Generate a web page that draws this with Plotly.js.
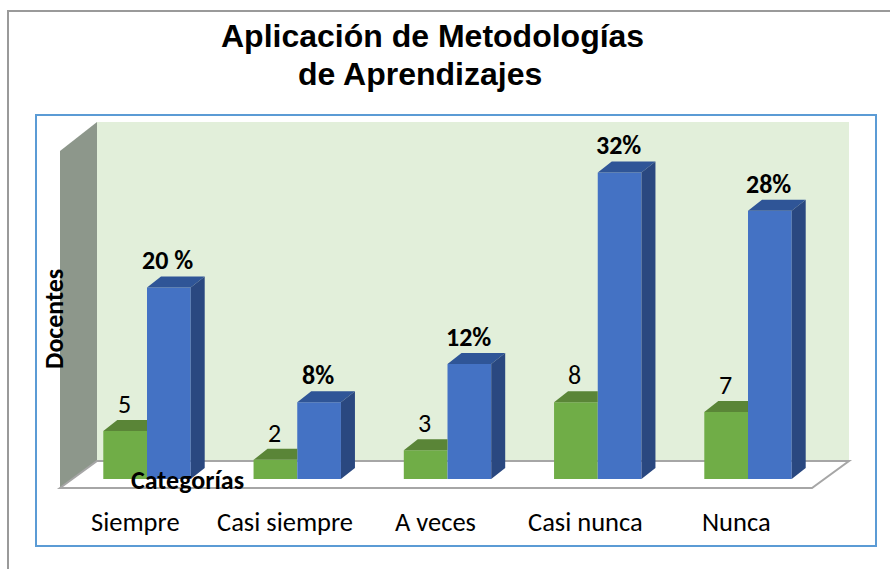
<!DOCTYPE html>
<html><head><meta charset="utf-8">
<script src="https://cdn.plot.ly/plotly-3.0.1.min.js"></script>
<style>html,body{margin:0;padding:0;background:#fff;overflow:hidden}</style>
</head><body><div id="chart" style="width:890px;height:569px"></div>
<script>
const categories = ["Siempre","Casi siempre","A veces","Casi nunca","Nunca"];
const docentes = [5,2,3,8,7];
const porcentajes = [20,8,12,32,28];
const etiquetasPct = ["20 %","8%","12%","32%","28%"];
const etiquetasDoc = ["5","2","3","8","7"];

// scale: one category = 150.25 px, one value unit = 9.58 px
const pxX = 150.25, pxY = 9.58;
const X = p => (p - 147) / pxX;
const Y = p => (479 - p) / pxY;
const barW = 43.7 / pxX, depthX = 14 / pxX, depthY = 11 / pxY;
const idx = categories.map((_, i) => i);

function poly(name, color, build) {
  const xs = [], ys = [];
  idx.forEach(i => {
    build(i).forEach(p => { xs.push(p[0]); ys.push(p[1]); });
    xs.push(null); ys.push(null);
  });
  return {type:'scatter', mode:'lines', x:xs, y:ys, fill:'toself', fillcolor:color,
          line:{width:0, color:color}, hoverinfo:'skip', showlegend:false, name:name};
}

const traces = [
  {type:'bar', name:'Docentes', x:idx, y:docentes, marker:{color:'#70AD47', line:{width:0}}},
  {type:'bar', name:'Porcentaje', x:idx, y:porcentajes, marker:{color:'#4472C4', line:{width:0}}},
  poly('Docentes tapa', '#5A8537', i => [
    [i-barW, docentes[i]], [i, docentes[i]], [i, docentes[i]+depthY],
    [i-barW+depthX, docentes[i]+depthY]]),
  poly('Porcentaje tapa', '#2F5597', i => [
    [i, porcentajes[i]], [i+barW, porcentajes[i]],
    [i+barW+depthX, porcentajes[i]+depthY], [i+depthX, porcentajes[i]+depthY]]),
  poly('Porcentaje lado', '#2A4880', i => [
    [i+barW, 0], [i+barW+depthX, depthY],
    [i+barW+depthX, porcentajes[i]+depthY], [i+barW, porcentajes[i]]])
];

const shapes = [
  {type:'rect', xref:'paper', yref:'paper', x0:8/890, x1:1.01, y0:-0.01, y1:1-11/569,
   line:{color:'#9A9A9A', width:2}, fillcolor:'#fff', layer:'below'},
  {type:'rect', xref:'paper', yref:'paper', x0:36/890, x1:876/890, y0:1-546/569, y1:1-115/569,
   line:{color:'#5B9BD5', width:2}, fillcolor:'#fff', layer:'below'},
  {type:'rect', x0:X(97), x1:X(849), y0:Y(461), y1:Y(122), fillcolor:'#E2EFDA', line:{width:0}, layer:'below'},
  {type:'path', path:`M${X(60)},${Y(488)} L${X(60)},${Y(151)} L${X(97)},${Y(122)} L${X(97)},${Y(461)} Z`,
   fillcolor:'#8D978B', line:{width:0}, layer:'below'},
  {type:'path', path:`M${X(60)},${Y(488)} L${X(97)},${Y(461)} L${X(849)},${Y(461)} L${X(812)},${Y(488)} Z`,
   fillcolor:'#FFFFFF', line:{color:'#A6A6A6', width:2}, layer:'below'}
];

const body = 'Carlito, Lato, "Open Sans", sans-serif';
const annotations = [];
idx.forEach(i => {
  annotations.push({x:i-barW/2, y:docentes[i], yshift:27, yanchor:'middle', xanchor:'center', xshift:-1,
    text:etiquetasDoc[i], showarrow:false, font:{family:body, size:26, color:'#000'}});
  annotations.push({x:i+barW/2, y:porcentajes[i], yshift:27, yanchor:'middle', xanchor:'center', xshift:-1,
    text:'<b>'+etiquetasPct[i]+'</b>', showarrow:false, font:{family:body, size:26, color:'#000'}});
  annotations.push({x:i, xshift:-12, y:Y(522), yanchor:'middle', xanchor:'center',
    text:categories[i], showarrow:false, font:{family:body, size:26.5, color:'#000'}});
});
annotations.push({xref:'paper', yref:'paper', x:187/890, y:1-480/569, xanchor:'center', yanchor:'middle',
  text:'<b>Categorías</b>', showarrow:false, font:{family:body, size:26, color:'#000'}});
annotations.push({xref:'paper', yref:'paper', x:54/890, y:1-319/569, xanchor:'center', yanchor:'middle', textangle:-90,
  text:'<b>Docentes</b>', showarrow:false, font:{family:body, size:26, color:'#000'}});
annotations.push({xref:'paper', yref:'paper', x:296/890, y:1-74/569, xanchor:'left', yanchor:'middle',
  text:'<b>de Aprendizajes</b>', showarrow:false, font:{family:'"Liberation Sans", Arial, sans-serif', size:32, color:'#000'}});

Plotly.newPlot('chart', traces, {
  width:890, height:569, margin:{l:0,r:0,t:0,b:0},
  paper_bgcolor:'#fff', plot_bgcolor:'rgba(0,0,0,0)',
  showlegend:false, barmode:'group', bargap:1-2*barW, bargroupgap:0,
  title:{text:'<b>Aplicación de Metodologías</b>',
         font:{family:'"Liberation Sans", Arial, sans-serif', size:32, color:'#000'},
         x:221/890, xanchor:'left', y:1-36/569, yanchor:'middle'},
  xaxis:{range:[X(0),X(890)], visible:false, fixedrange:true},
  yaxis:{range:[Y(569),Y(0)], visible:false, fixedrange:true},
  shapes:shapes, annotations:annotations
}, {displayModeBar:false, staticPlot:true});
</script></body></html>
